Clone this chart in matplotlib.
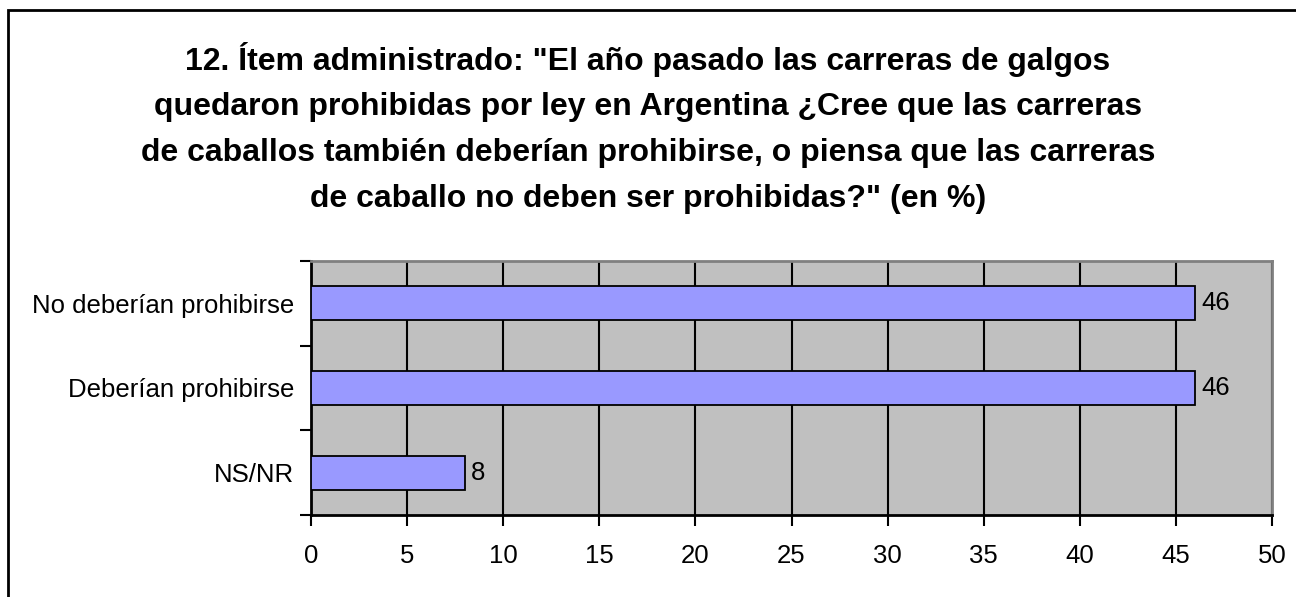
import matplotlib
matplotlib.use("Agg")
import matplotlib.pyplot as plt
from matplotlib.patches import Rectangle

plt.rcParams["font.family"] = ["Liberation Sans", "DejaVu Sans"]

title = ('12. Ítem administrado: "El año pasado las carreras de galgos\n'
         'quedaron prohibidas por ley en Argentina ¿Cree que las carreras\n'
         'de caballos también deberían prohibirse, o piensa que las carreras\n'
         'de caballo no deben ser prohibidas?" (en %)')
categories = ["NS/NR", "Deberían prohibirse", "No deberían prohibirse"]
values = [8, 46, 46]
xticks = [0, 5, 10, 15, 20, 25, 30, 35, 40, 45, 50]

fig = plt.figure(figsize=(12.96, 5.97), dpi=100)
fig.patch.set_facecolor("white")

# outer frame (right/bottom edges fall outside the image)
fig.add_artist(Rectangle((8 / 1296, -0.1), 1.2, (597 - 10) / 597 + 0.1,
                         transform=fig.transFigure, fill=False,
                         edgecolor="black", linewidth=2, clip_on=False))

fig.text(0.5, 0.642, title, ha="center", va="bottom", fontsize=23,
         fontweight="bold", linespacing=1.68)

ax = fig.add_axes([311 / 1296, 82 / 597, (1272 - 311) / 1296, (515 - 261) / 597])
ax.set_facecolor("#C0C0C0")
y = range(len(categories))
ax.barh(y, values, height=0.4, color="#9999FF", edgecolor="black", linewidth=1.3, zorder=3)
for yi, v in zip(y, values):
    ax.text(v + 0.3, yi, f"{v}", va="center", ha="left", fontsize=18.5)

ax.set_xlim(0, 50)
ax.set_ylim(-0.5, 2.5)
ax.set_xticks(xticks)
ax.set_xticklabels([str(t) for t in xticks], fontsize=18.5)
ax.set_yticks([-0.5, 0.5, 1.5, 2.5])
ax.set_yticks(list(y), minor=True)
ax.set_yticklabels([])
ax.set_yticklabels(categories, minor=True, fontsize=18.5)
ax.tick_params(axis="y", which="minor", length=0, pad=12)
ax.tick_params(axis="y", which="major", length=8, width=1.5, direction="out")
ax.tick_params(axis="x", length=8, width=1.5, direction="out", pad=13)
ax.grid(True, axis="x", color="black", linewidth=1.5, zorder=1)
ax.set_axisbelow(True)
for side in ["top", "right"]:
    ax.spines[side].set_color("#808080")
    ax.spines[side].set_linewidth(2)
for side in ["left", "bottom"]:
    ax.spines[side].set_color("black")
    ax.spines[side].set_linewidth(2)

fig.savefig("out.png", dpi=100, facecolor="white")
